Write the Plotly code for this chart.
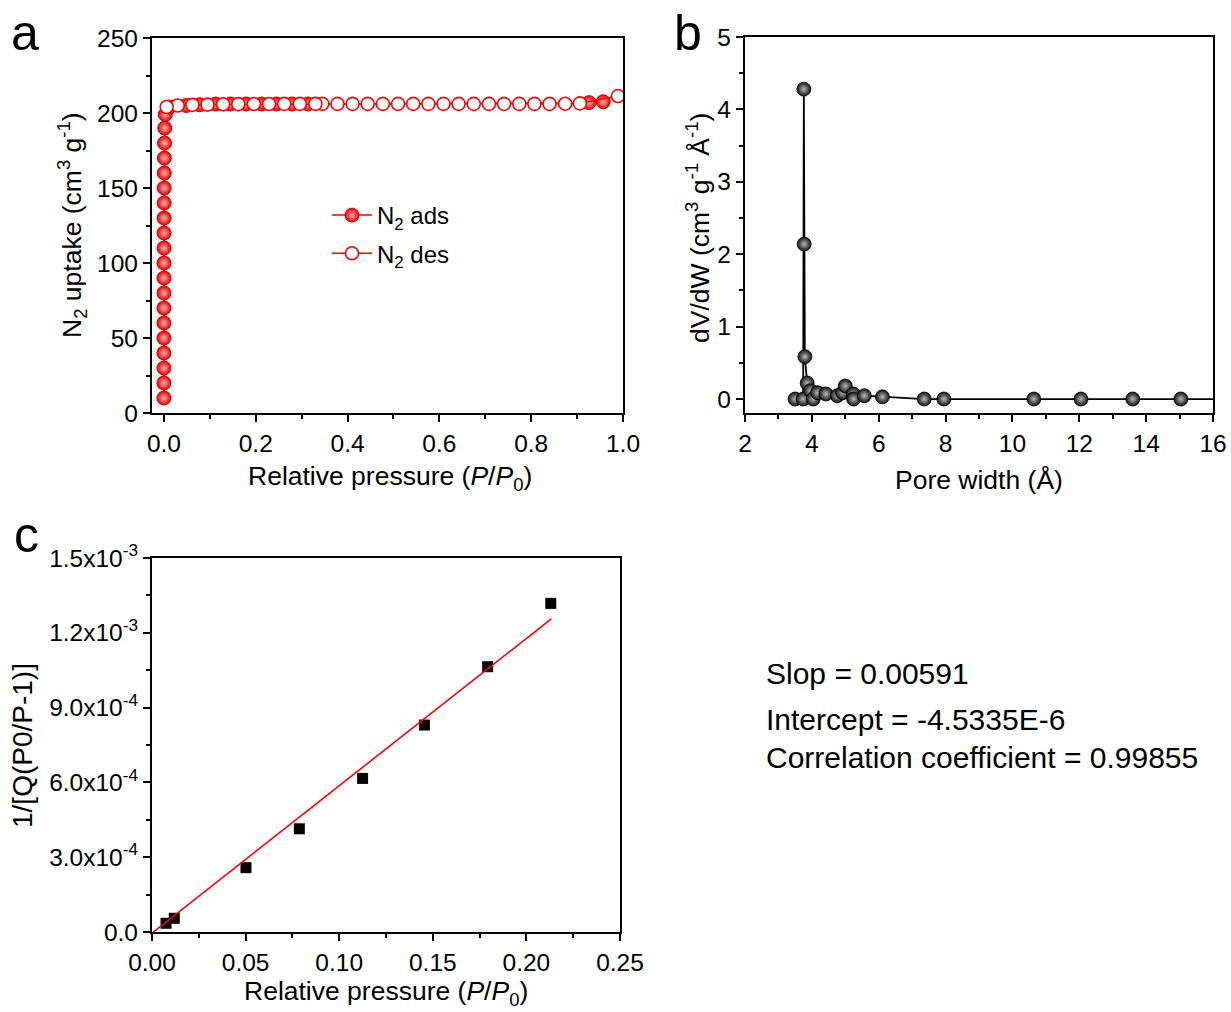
import plotly.graph_objects as go

W, H = 1231, 1012
FONT = "Arial, Liberation Sans, Helvetica, sans-serif"

# ---------------- Panel a: N2 isotherm ----------------
ads_p = [0.000002, 0.000005, 0.00001, 0.00002, 0.00003, 0.00005, 0.00007, 0.0001,
         0.00013, 0.00017, 0.00022, 0.00028, 0.00035, 0.00045, 0.0006, 0.0008,
         0.001, 0.0013, 0.0018, 0.003,
         0.012, 0.049, 0.078, 0.113, 0.145, 0.179, 0.213, 0.245, 0.279, 0.314,
         0.926, 0.957]
ads_q = [10, 20, 30, 40, 50, 60, 70, 80, 90, 100, 110, 120, 130, 140, 150, 160,
         170, 180, 190, 199,
         204, 205, 205.5, 206, 206, 206, 206, 206, 206, 206,
         206.9, 207.5]
des_p = [0.989, 0.906, 0.874, 0.840, 0.807, 0.774, 0.741, 0.708, 0.675, 0.642,
         0.609, 0.576, 0.543, 0.510, 0.477, 0.444, 0.411, 0.378, 0.345, 0.330,
         0.296, 0.262, 0.229, 0.196, 0.162, 0.129, 0.095, 0.062, 0.030, 0.006]
des_q = [211.3, 206.4, 206.2, 206.1, 206.1, 206.1, 206.1, 206.1, 206.1, 206.1,
         206.1, 206.1, 206.1, 206.1, 206.1, 206.1, 206.1, 206.1, 206.1, 206.1,
         206.1, 206.1, 206.0, 206.0, 205.9, 205.8, 205.6, 205.4, 205.0, 204.0]

# ---------------- Panel b: pore size distribution ----------------
pore_w = [3.50, 3.74, 3.76, 3.77, 3.79, 3.86, 3.96, 4.04, 4.17, 4.42, 4.76,
          4.92, 5.00, 5.24, 5.25, 5.57, 6.11, 7.36, 7.95, 10.64, 12.05, 13.60,
          15.04, 17.0]
dvdw = [0.00, 0.00, 4.28, 2.14, 0.585, 0.22, 0.115, 0.00, 0.087, 0.07, 0.046,
        0.087, 0.18, 0.07, 0.00, 0.046, 0.03, 0.00, 0.00, 0.00, 0.00, 0.00,
        0.00, 0.00]

# ---------------- Panel c: BET plot ----------------
bet_p = [0.0075, 0.0119, 0.0502, 0.0787, 0.1125, 0.1455, 0.1793, 0.2130]
bet_y = [3.5e-5, 5.5e-5, 2.58e-4, 4.14e-4, 6.16e-4, 8.30e-4, 1.064e-3, 1.318e-3]
slope = 0.00591
intercept = -4.5335e-6
fit_range = [0.0007, 0.2133]
fit_y = [slope * x + intercept for x in fit_range]

c_yticks = [0, 3e-4, 6e-4, 9e-4, 1.2e-3, 1.5e-3]
c_yticktext = ["0.0", "3.0x10<sup>-4</sup>", "6.0x10<sup>-4</sup>", "9.0x10<sup>-4</sup>",
               "1.2x10<sup>-3</sup>", "1.5x10<sup>-3</sup>"]

fig = go.Figure()

RED = "#ff0000"
fig.add_trace(go.Scatter(
    x=ads_p, y=ads_q, mode="lines+markers", name="N<sub>2</sub> ads",
    legendgroup="ads",
    line=dict(color=RED, width=1.5),
    marker=dict(symbol="circle", size=14, color="#e60000",
                gradient=dict(type="radial", color="#ffb0b0"),
                line=dict(color="#d00000", width=1)),
    xaxis="x", yaxis="y"))
fig.add_trace(go.Scatter(
    x=des_p, y=des_q, mode="lines+markers", name="N<sub>2</sub> des",
    legendgroup="des",
    line=dict(color=RED, width=1.5),
    marker=dict(symbol="circle", size=13, color="white",
                line=dict(color=RED, width=1.6)),
    xaxis="x", yaxis="y"))

fig.add_trace(go.Scatter(
    x=pore_w, y=dvdw, mode="lines+markers", showlegend=False,
    line=dict(color="black", width=1.8),
    marker=dict(symbol="circle", size=14, color="#111111",
                gradient=dict(type="radial", color="#b8b8b8"),
                line=dict(color="black", width=0.8)),
    cliponaxis=True, xaxis="x2", yaxis="y2"))

fig.add_trace(go.Scatter(
    x=bet_p, y=bet_y, mode="markers", showlegend=False,
    marker=dict(symbol="square", size=11, color="black"),
    xaxis="x3", yaxis="y3"))
fig.add_trace(go.Scatter(
    x=fit_range, y=fit_y, mode="lines", showlegend=False,
    line=dict(color=RED, width=1.6),
    xaxis="x3", yaxis="y3"))


def px_x(a, b):
    return [a / W, b / W]


def px_y(top, bottom):
    return [1 - bottom / H, 1 - top / H]


TICKF = 24.5
TITLEF = 26.5

axis_common = dict(
    showline=True, linecolor="black", linewidth=2.2, mirror=True,
    ticks="outside", ticklen=7, tickwidth=2, tickcolor="black",
    showgrid=False, zeroline=False, automargin=False,
    tickfont=dict(family=FONT, size=TICKF, color="black"),
)
minor_common = dict(ticklen=4, tickwidth=2, ticks="outside", tickcolor="black")

fig.update_layout(
    width=W, height=H,
    margin=dict(l=0, r=0, t=0, b=0, autoexpand=False),
    paper_bgcolor="white", plot_bgcolor="white",
    font=dict(family=FONT, color="black"),
    xaxis=dict(axis_common, domain=px_x(152, 623), range=[-0.026, 1.0],
               tickvals=[0, 0.2, 0.4, 0.6, 0.8, 1.0],
               ticktext=["0.0", "0.2", "0.4", "0.6", "0.8", "1.0"],
               minor=dict(minor_common, dtick=0.1, tick0=0),
               anchor="y"),
    yaxis=dict(axis_common, domain=px_y(38, 413), range=[0, 250], dtick=50,
               minor=dict(minor_common, dtick=25),
               anchor="x"),
    xaxis2=dict(axis_common, domain=px_x(745, 1213), range=[2, 16], dtick=2,
                minor=dict(minor_common, dtick=1),
                anchor="y2"),
    yaxis2=dict(axis_common, domain=px_y(37, 413), range=[-0.193, 5], dtick=1, tick0=0,
                minor=dict(minor_common, dtick=0.5, tick0=0),
                anchor="x2"),
    xaxis3=dict(axis_common, domain=px_x(152, 620), range=[0, 0.25], dtick=0.05,
                tickformat=".2f",
                minor=dict(minor_common, dtick=0.025),
                anchor="y3"),
    yaxis3=dict(axis_common, domain=px_y(558, 932), range=[0, 1.5e-3],
                tickvals=c_yticks, ticktext=c_yticktext,
                minor=dict(minor_common, dtick=1.5e-4),
                anchor="x3"),
    legend=dict(x=327 / W, y=1 - 193 / H, xanchor="left", yanchor="top",
                bgcolor="rgba(0,0,0,0)", font=dict(family=FONT, size=24, color="black"),
                tracegroupgap=4, itemwidth=40),
    showlegend=True,
)

ann = []


def add_text(text, x, y, size, angle=0, xanchor="center", yanchor="middle"):
    ann.append(dict(text=text, x=x / W, y=1 - y / H, xref="paper", yref="paper",
                    showarrow=False, textangle=angle, xanchor=xanchor, yanchor=yanchor,
                    font=dict(family=FONT, size=size, color="black")))


add_text("a", 25, 33, 50)
add_text("b", 688, 33, 50)
add_text("c", 26, 535, 50)

add_text("Relative pressure (<i>P</i>/<i>P</i><sub>0</sub>)", 390, 478, TITLEF)
add_text("N<sub>2</sub> uptake (cm<sup>3</sup> g<sup>-1</sup>)", 72, 225, TITLEF, angle=-90)
add_text("Pore width (Å)", 979, 480, TITLEF)
add_text("dV/dW (cm<sup>3</sup> g<sup>-1</sup> Å<sup>-1</sup>)", 698, 228, TITLEF, angle=-90)
add_text("Relative pressure (<i>P</i>/<i>P</i><sub>0</sub>)", 386, 993, TITLEF)
add_text("1/[Q(P0/P-1)]", 22, 746, 28, angle=-90)

add_text("Slop = 0.00591", 764, 673, 30, xanchor="left")
add_text("Intercept = -4.5335E-6", 764, 719, 30, xanchor="left")
add_text("Correlation coefficient = 0.99855", 764, 757, 30, xanchor="left")

fig.update_layout(annotations=ann)

fig.write_html("out.html")
